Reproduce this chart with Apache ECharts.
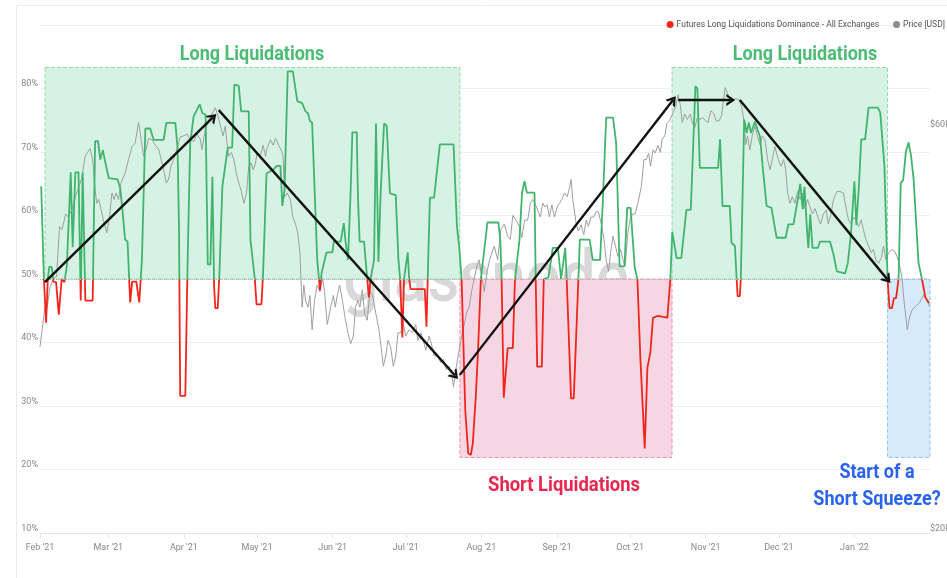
<!DOCTYPE html>
<html>
<head>
<meta charset="utf-8">
<title>Futures Long Liquidations Dominance</title>
<script src="https://cdn.jsdelivr.net/npm/echarts@6/dist/echarts.min.js"></script>
<style>
  html, body { margin: 0; padding: 0; background: #fff; }
  #chart { width: 947px; height: 578px; }
</style>
</head>
<body>
<div id="chart"></div>
<script>
// x positions are days since 1 Feb 2021
const monthDays = [0, 28, 59, 89, 120, 150, 181, 212, 242, 273, 303, 334];
const monthLabels = ["Feb '21", "Mar '21", "Apr '21", "May '21", "Jun '21", "Jul '21",
  "Aug '21", "Sep '21", "Oct '21", "Nov '21", "Dec '21", "Jan '22"];

// Futures long liquidations dominance (%)
const domDay = [0.5, 1.6, 2.5, 3.2, 3.8, 4.8, 5.5, 6.6, 7.7, 8.9, 10, 11, 12.6, 13.4, 14.5, 15.8, 16.7, 17.5, 18.6, 21.6,
  22.6, 23.8, 24.7, 25.8, 26.8, 28.2, 31.8, 32.9, 33.8, 34.9, 35.9, 36.7, 37, 37.8, 39.5, 40.7, 41.8, 43.2, 45.2, 46.6,
  50.7, 51.8, 55.5, 56.4, 57, 57.5, 59.6, 60.5, 61.6, 63, 65.5, 66.6, 67.9, 68.8, 69.9, 70.7, 71.4, 71.9, 72.9, 73.6,
  74.8, 77, 78.8, 79.7, 81.5, 82.5, 85.6, 86.3, 88.1, 88.8, 90.8, 91.5, 92.9, 95.9, 97, 98.6, 99.4, 100.3, 101.6, 103.7,
  105.5, 107.5, 108.9, 109.9, 110.7, 111.6, 113.7, 114.4, 114.8, 115.5, 117.5, 119.9, 120.5, 123.3, 124.6, 125.3, 126.3, 127.4, 128.1, 129.9,
  130.4, 131.1, 132.9, 134.2, 134.9, 135.6, 137, 137.8, 138.8, 139.7, 141.1, 142.2, 143.5, 145.9, 147, 147.7, 148.6, 149.3, 150.8, 151.4,
  152, 157.8, 158.5, 159, 159.9, 161.6, 164, 169.6, 171, 171.9, 172.9, 174.4, 175.6, 176.7, 177.5, 178.8, 179.7, 180.8, 183.5, 188,
  188.8, 189.3, 190.2, 190.8, 191.8, 193.9, 194.8, 196.6, 197.7, 198.7, 199.7, 202.8, 203.3, 203.9, 205.8, 206.6, 208.5, 210.3, 212.4, 213.7,
  215.4, 216, 217.8, 218.9, 220.8, 221.4, 225.4, 226.7, 229.7, 230.8, 232.2, 235, 236.3, 237.7, 239.7, 240.8, 242.2, 243.9, 245, 246.2,
  248, 249.1, 250.3, 251.4, 253.4, 257.3, 258.5, 259.3, 261.1, 263, 265.1, 266.9, 268.8, 269.6, 270.6, 278.1, 278.9, 279.9, 282.9, 283.6,
  285, 285.7, 286.1, 287, 287.4, 288.8, 289.8, 290.7, 291.6, 293.2, 294.3, 295.3, 296.6, 298, 300, 301.4, 302.1, 305.8, 306.9, 309,
  310.3, 311.8, 312.8, 313.5, 314.6, 315.1, 315.9, 316.8, 319, 319.9, 324, 325.4, 326.8, 330.2, 331.3, 332.6, 334, 334.8, 335.9, 336.8,
  338.4, 339.8, 343.6, 344.6, 346.3, 346.9, 347.6, 348.4, 349.4, 350.2, 351.1, 352.1, 353, 354, 355.1, 356.2, 357.2, 358.3, 359, 360.3,
  361.7, 363.1, 363.7, 364.6];
const domVal = [64.6, 50, 43.1, 50, 51.9, 51.9, 49.6, 49.5, 44.4, 50, 49.5, 52, 66.8, 55, 66.8, 66.8, 46.6, 66.8, 46.6, 46.6,
  71.7, 71.7, 68.8, 70.3, 68.3, 65.9, 65.7, 64.3, 60.9, 56.2, 55.9, 48.8, 46.3, 49.6, 49.6, 46.3, 53, 73.7, 73.7, 71.9,
  71.9, 74.6, 74.6, 70.7, 58.3, 31.6, 31.6, 52, 71.4, 75.6, 77.5, 76.1, 75.9, 52.3, 52.3, 66.1, 48.8, 45.4, 45.4, 51,
  64.6, 70.7, 70.7, 80.6, 80.4, 76.4, 76.4, 56.2, 50, 46, 46, 51, 66.6, 67.3, 67.8, 67.8, 61.5, 64, 82.7, 82.7,
  78, 77.7, 76.4, 76.1, 74.9, 74.6, 53, 50, 48.2, 51, 54.2, 54.2, 55.9, 55.9, 58.8, 55.9, 53, 63.8, 73.1, 73.1,
  62.7, 55.9, 55.9, 50, 47.1, 50, 53, 74.5, 52.7, 63.5, 74.5, 74.1, 63.5, 63.2, 53, 50, 40.8, 50, 54.2, 50,
  48.4, 48.4, 42.5, 50, 62.8, 62.8, 71.2, 71.2, 58.3, 55.1, 50, 29.4, 22.6, 22.3, 24.1, 32, 39.3, 50, 58.9, 58.9,
  56, 50, 31.3, 31.3, 39.1, 39.1, 50, 56, 63.6, 65.4, 63.6, 63.6, 50, 36.2, 36.2, 50, 50.2, 54.9, 54.9, 50,
  54.9, 50, 31.2, 31.2, 50, 56.2, 56.2, 53, 53, 62, 75.4, 75.4, 71.4, 52, 52, 61.2, 61.2, 51.8, 50, 37.7,
  23.3, 36, 38.4, 43.9, 44.2, 43.9, 50, 57.4, 53.3, 53.3, 60.9, 60.9, 80.4, 80, 67.5, 67.5, 72, 61.5, 61.5, 55.7,
  55.2, 50, 47.3, 47.3, 50, 75.1, 73, 74.6, 73, 74.8, 73.5, 72.4, 66.8, 61.5, 61.2, 58, 56.5, 56.5, 58.6, 58.6,
  61.5, 65, 61, 64.5, 57.5, 54.9, 60.2, 54.9, 54.9, 55.9, 55.9, 53.9, 51.2, 50.9, 52.5, 57.2, 65.4, 58.5, 65, 72,
  72, 77, 77, 76.2, 67.8, 67.8, 50, 45.4, 45.4, 47, 47, 50, 65.1, 65.6, 70, 71.5, 69.5, 65.6, 65.6, 52.5,
  50, 47.1, 46.8, 46.2];

// BTC price (USD)
const priceDay = [0, 2, 3, 4, 5.5, 6.8, 8, 9, 9.6, 10.5, 11.6, 13, 15, 17, 18.5, 19.5, 20.5, 21.6, 22.6, 23.3,
  24.1, 25.1, 26, 27.4, 28.5, 29.5, 30.4, 31.2, 32.2, 33.2, 34.9, 36.3, 37.7, 39, 40.4, 41.5, 42.5, 43.6, 44.5, 45.9,
  47.3, 48.6, 49.7, 50.7, 51.8, 52.7, 53.7, 54.8, 56.2, 57.5, 58.9, 60.3, 61.6, 63, 64.4, 65.8, 66.4, 67.8, 69.2, 70.5,
  71.9, 73, 74, 75.1, 76, 76.7, 77.4, 78.5, 79.5, 80.5, 81.5, 82.6, 83.6, 84.7, 85.6, 86.6, 87.4, 88.4, 89, 90.4,
  91.5, 92.5, 93.1, 94.5, 95.6, 96.6, 97.9, 98.9, 99.7, 100.3, 101.4, 102.7, 103.7, 104.8, 105.7, 106.6, 107.5, 108.2, 108.9, 109.9,
  110.7, 111.6, 112.6, 113.7, 114.8, 115.9, 116.7, 117.8, 119.2, 120.3, 121.1, 121.9, 122.9, 124, 125.3, 126.3, 127.4, 128.5, 129.4, 130.4,
  131.2, 132.2, 133.1, 134.2, 135.3, 136.4, 137.7, 139, 140, 140.8, 141.8, 142.7, 143.8, 144.9, 145.9, 146.8, 147.9, 149, 150, 151.4,
  152.7, 154.1, 155, 156.2, 157.2, 158.2, 159.6, 160.5, 161.6, 163, 164.4, 165.5, 166.6, 167.8, 168.8, 169.6, 170.5, 171.5, 172.6, 174,
  174.9, 176, 177, 178.1, 179.2, 180.1, 181.1, 182.2, 183.3, 184.4, 186.3, 187.7, 189, 190.4, 191.8, 192.9, 193.9, 195.2, 196.6, 197.6,
  198.7, 200, 201.1, 202, 203, 204.1, 205.2, 206.2, 207.1, 208, 208.9, 209.9, 211, 212.1, 213, 214, 215.1, 216.2, 217.1, 217.8,
  218.5, 219.9, 220.8, 221.9, 223, 224, 224.9, 226, 227.1, 228.1, 229, 230.2, 231.3, 232.2, 233.2, 234, 235, 236, 237, 238.1,
  239.1, 240, 241.1, 242.2, 243.2, 244.1, 245.2, 246.6, 247.7, 248.6, 249.6, 250.4, 251.4, 252.3, 253.4, 254.4, 255.1, 256.2, 257.1, 258.2,
  259.6, 260.7, 261.7, 262.6, 263.4, 264.4, 265.5, 266.6, 267.5, 268.5, 269.6, 270.7, 271.8, 272.9, 274, 275.1, 276.2, 277.3, 278.4, 279.5,
  281, 282.5, 283.6, 285.3, 286.6, 287.7, 288.7, 289.4, 290.2, 291.1, 292.1, 293.2, 294.2, 295.3, 296.2, 297.3, 298.4, 299.4, 300.3, 301.4,
  302.8, 303.9, 305, 305.8, 306.6, 307.6, 308.5, 309.6, 310.7, 311.7, 312.7, 313.7, 314.8, 315.8, 316.8, 317.9, 319, 320.1, 321.3, 322.4,
  323.3, 324.4, 325.4, 326.8, 328.1, 329.5, 330.5, 331.6, 332.7, 333.6, 334.6, 335.7, 336.8, 337.7, 338.7, 339.8, 340.9, 341.8, 342.8, 343.9,
  345, 345.9, 346.9, 348, 349.4, 350.5, 351.4, 352.4, 353.5, 354.6, 355.7, 356.5, 357.6, 358.7, 359.6, 360.6, 361.7, 362.5, 363.3, 364.1,
  365];
const priceVal = [33200, 37000, 37000, 39000, 40000, 40200, 46100, 45700, 46400, 47700, 47300, 48200, 50500, 52400, 55800, 56400, 57000, 55300, 51000, 49100,
  49600, 48200, 46900, 45300, 47300, 50500, 49600, 50500, 49600, 51900, 53300, 55300, 57300, 57800, 61200, 58400, 55800, 57000, 58600, 58400,
  57500, 57000, 55300, 53800, 51900, 52400, 54300, 55300, 57000, 58800, 59000, 59300, 58400, 58100, 59300, 58400, 56800, 60000, 61500, 62600,
  63700, 62300, 60600, 59000, 60600, 57800, 55800, 56400, 55300, 53300, 51900, 50700, 49100, 50500, 54300, 54800, 53800, 54800, 56300, 56000,
  57500, 55800, 57000, 58400, 57500, 58600, 57500, 56800, 55800, 50000, 50500, 49600, 47300, 46400, 45300, 42900, 37000, 39300, 37700, 37000,
  38200, 34800, 37700, 39300, 38600, 40000, 38600, 35300, 37000, 38200, 37000, 38200, 39300, 37700, 35700, 34500, 33500, 34200, 37000, 37700,
  37000, 38800, 36400, 35700, 38600, 38200, 36400, 34800, 33000, 31500, 32400, 33800, 33200, 31500, 32400, 34500, 34500, 35300, 34200, 34800,
  34500, 35300, 33800, 34500, 33800, 32900, 34200, 33500, 32400, 32400, 31800, 32100, 31200, 31500, 30800, 29800, 31200, 32400, 33800, 35300,
  36400, 37000, 38600, 40000, 41400, 42100, 40300, 38600, 40700, 42100, 43700, 42100, 45700, 46400, 44900, 44500, 47500, 46900, 46100, 44700,
  46900, 46900, 49100, 49600, 49100, 48200, 47300, 49100, 48600, 48900, 47300, 48900, 47300, 48600, 49100, 49600, 50500, 50000, 51100, 52400,
  49600, 46400, 45500, 46300, 45100, 46900, 46100, 47300, 47300, 48000, 48000, 46400, 44500, 42100, 40800, 42900, 44900, 43700, 42500, 43300,
  42100, 41400, 45300, 47300, 47700, 47700, 49100, 51400, 55300, 55300, 56300, 54300, 56800, 56300, 57500, 56400, 58400, 59000, 61000, 61500,
  62800, 63900, 66000, 64200, 61200, 62600, 61700, 62600, 61200, 60300, 62000, 61700, 62000, 61500, 61200, 63200, 62800, 61500, 61400, 62300,
  67300, 65700, 64800, 65300, 65100, 63900, 61500, 57600, 59000, 56800, 59000, 60600, 59000, 57600, 59000, 58400, 55300, 53800, 55300, 57300,
  55300, 54300, 55300, 53800, 50500, 49100, 50000, 49100, 50700, 49600, 50500, 48400, 49600, 48600, 47700, 48400, 47300, 46400, 47700, 48200,
  46400, 47700, 49600, 50700, 50700, 50500, 48600, 46900, 46400, 47300, 46900, 46100, 46900, 45700, 44500, 43700, 42900, 43300, 42100, 41700,
  42300, 43700, 42100, 42900, 43300, 43100, 42500, 41700, 40000, 37000, 34800, 35900, 36700, 37000, 37200, 37400, 37900, 38300, 37900, 37700,
  37000];

const GREEN = '#41b46c';
const RED = '#f0261c';

const chart = echarts.init(document.getElementById('chart'));

const arrowHead = 'path://M0,10 L5,0 L10,10 L7.8,10 L5,4.4 L2.2,10 Z';

const arrows = [
  [[2.05, 49.5], [71, 75.5]],
  [[73.3, 76.6], [170.2, 34.8]],
  [[172.2, 34.9], [259.6, 78.2]],
  [[261.7, 78.2], [283.3, 78.2]],
  [[287, 78.2], [347.6, 49.9]]
];

const option = {
  animation: false,
  textStyle: { fontFamily: 'Roboto, sans-serif' },
  legend: {
    top: 15,
    right: -3,
    icon: 'circle',
    itemWidth: 7,
    itemHeight: 7,
    itemGap: 14,
    textStyle: { fontSize: 8.5, color: '#555', padding: [0, 0, 0, -2] },
    data: [
      { name: 'Futures Long Liquidations Dominance - All Exchanges', itemStyle: { color: RED } },
      { name: 'Price [USD]', itemStyle: { color: '#8c8c8c' } }
    ]
  },
  grid: { left: 40, right: 17, top: 25, bottom: 45, outerBoundsMode: 'none' },
  xAxis: {
    type: 'value',
    min: 0,
    max: 365,
    axisLine: { lineStyle: { color: '#e3e3e3' } },
    axisTick: { customValues: monthDays, length: 5, lineStyle: { color: '#e3e3e3' } },
    splitLine: { show: false },
    axisLabel: {
      customValues: monthDays,
      color: '#888',
      fontSize: 9,
      margin: 10,
      formatter: v => monthLabels[monthDays.indexOf(v)] || ''
    }
  },
  yAxis: [
    {
      type: 'value',
      min: 10,
      max: 90,
      interval: 10,
      axisLine: { show: false },
      axisTick: { show: false },
      splitLine: { lineStyle: { color: '#f0f0f0' } },
      axisLabel: {
        color: '#888',
        fontSize: 9,
        margin: 2,
        verticalAlign: 'bottom',
        formatter: v => (v >= 90 ? '' : v + '%')
      }
    },
    {
      type: 'log',
      logBase: 10,
      min: 20000,
      max: 79800,
      position: 'right',
      axisLine: { show: false },
      axisTick: { show: false },
      splitLine: { show: false },
      axisLabel: {
        customValues: [20000, 60000],
        color: '#888',
        fontSize: 9,
        margin: 0,
        verticalAlign: 'bottom',
        formatter: v => '$' + Math.round(v / 1000) + 'k'
      }
    }
  ],
  visualMap: {
    type: 'piecewise',
    show: false,
    seriesIndex: 0,
    dimension: 1,
    pieces: [
      { min: 0, max: 50, color: RED },
      { min: 50, max: 100, color: GREEN }
    ]
  },
  graphic: [
    {
      type: 'rect', z: -10, silent: true,
      shape: { x: 16.5, y: 5.5, width: 960, height: 600 },
      style: { fill: 'none', stroke: '#ebebeb', lineWidth: 1 }
    },
    {
      type: 'text', z: 1, silent: true, x: 486, y: 283, scaleX: 0.86,
      style: { text: 'glassnode', font: '500 72px Roboto', fill: 'rgba(60,60,60,0.2)', textAlign: 'center', textVerticalAlign: 'middle' }
    },
    {
      type: 'text', z: 10, x: 252, y: 55, scaleX: 0.9,
      style: { text: 'Long Liquidations', font: 'bold 20px Roboto', fill: '#4cbb73', textAlign: 'center', textVerticalAlign: 'middle' }
    },
    {
      type: 'text', z: 10, x: 805, y: 55, scaleX: 0.9,
      style: { text: 'Long Liquidations', font: 'bold 20px Roboto', fill: '#4cbb73', textAlign: 'center', textVerticalAlign: 'middle' }
    },
    {
      type: 'text', z: 10, x: 564, y: 486, scaleX: 0.92,
      style: { text: 'Short Liquidations', font: 'bold 20px Roboto', fill: '#e8264e', textAlign: 'center', textVerticalAlign: 'middle' }
    },
    {
      type: 'text', z: 10, x: 877, y: 473, scaleX: 0.9,
      style: { text: 'Start of a', font: 'bold 20px Roboto', fill: '#2a62f0', textAlign: 'center', textVerticalAlign: 'middle' }
    },
    {
      type: 'text', z: 10, x: 877, y: 500, scaleX: 0.9,
      style: { text: 'Short Squeeze?', font: 'bold 20px Roboto', fill: '#2a62f0', textAlign: 'center', textVerticalAlign: 'middle' }
    }
  ],
  series: [
    {
      name: 'Futures Long Liquidations Dominance - All Exchanges',
      type: 'line',
      z: 4,
      showSymbol: false,
      color: RED,
      lineStyle: { width: 1.8 },
      data: domDay.map((d, i) => [d, domVal[i]])
    },
    {
      name: 'Price [USD]',
      type: 'line',
      yAxisIndex: 1,
      z: 3,
      showSymbol: false,
      color: '#8c8c8c',
      lineStyle: { width: 1, color: '#9e9e9e' },
      data: priceDay.map((d, i) => [d, priceVal[i]])
    },
    {
      name: 'zones',
      type: 'line',
      z: 0,
      clip: false,
      data: [],
      markArea: {
        silent: true,
        data: [
          [{ coord: [2.05, 83.3], itemStyle: { color: '#d6f2e5', borderColor: '#93d8b0', borderWidth: 1, borderType: 'dashed' } }, { coord: [172.2, 50] }],
          [{ coord: [172.2, 50], itemStyle: { color: '#f7d6e4', borderColor: '#f192b4', borderWidth: 1, borderType: 'dashed' } }, { coord: [259.2, 21.9] }],
          [{ coord: [259.2, 83.3], itemStyle: { color: '#d6f2e5', borderColor: '#93d8b0', borderWidth: 1, borderType: 'dashed' } }, { coord: [347.6, 50] }],
          [{ coord: [347.6, 50], itemStyle: { color: '#d7eafb', borderColor: '#90c3f2', borderWidth: 1, borderType: 'dashed' } }, { coord: [367.8, 21.9] }]
        ]
      },
      markLine: {
        silent: true,
        symbol: 'none',
        label: { show: false },
        lineStyle: { color: '#b5b5b5', type: 'dotted', width: 1 },
        data: [{ yAxis: 50 }]
      }
    },
    {
      name: 'arrows',
      type: 'line',
      z: 6,
      clip: false,
      data: [],
      markLine: {
        silent: true,
        symbol: ['none', arrowHead],
        symbolSize: [12, 9],
        label: { show: false },
        lineStyle: { color: '#111', type: 'solid', width: 2.4 },
        data: arrows.map(a => [{ coord: a[0] }, { coord: a[1] }])
      }
    }
  ]
};

chart.setOption(option);
</script>
</body>
</html>
